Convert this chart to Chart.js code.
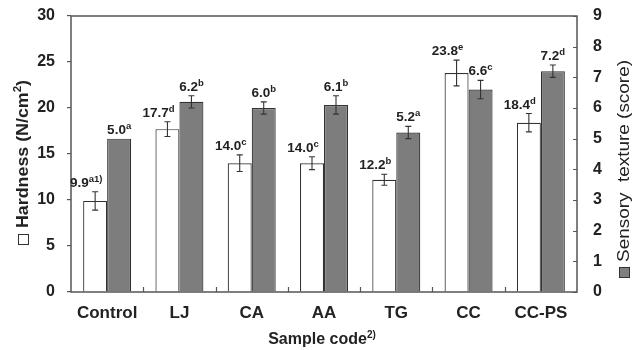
<!DOCTYPE html>
<html><head><meta charset="utf-8">
<script src="https://cdn.jsdelivr.net/npm/chart.js@4"></script>
<style>html,body{margin:0;padding:0;background:#fff}#wrap{width:644px;height:350px;position:relative}</style>
</head><body><div id="wrap"><canvas id="c" width="644" height="350"></canvas></div>
<script>
const categories = ['Control','LJ','CA','AA','TG','CC','CC-PS'];
const hardness = [9.9,17.7,14.0,14.0,12.2,23.8,18.4];
const hardnessErr = [1.0,0.8,0.9,0.7,0.6,1.4,1.0];
const hardnessSup = ['a1)','d','c','c','b','e','d'];
const sensory = [5.0,6.2,6.0,6.1,5.2,6.6,7.2];
const sensoryErr = [0,0.2,0.2,0.3,0.2,0.3,0.2];
const sensorySup = ['a','b','b','b','a','c','d'];
const hardnessTicks = [0,5,10,15,20,25,30];
const sensoryTicks = [0,1,2,3,4,5,6,7,8,9];

const TXT = '#222';
const AX = '#555';
const FONT = '"Liberation Sans", Arial, sans-serif';

function drawSupText(ctx, parts, cx, baseline, align) {
  let total = 0;
  parts.forEach(p => { ctx.font = p.font; p.w = ctx.measureText(p.t).width; total += p.w; });
  let x = align === 'center' ? cx - total / 2 : cx;
  parts.forEach(p => {
    ctx.font = p.font;
    ctx.fillText(p.t, x, baseline + (p.dy || 0));
    x += p.w;
  });
  return total;
}

// draw rotated (-90deg) text parts starting at screen y=startY going upward, fitted to length
function drawVertical(ctx, parts, baseX, startY, length) {
  let total = 0;
  parts.forEach(p => { ctx.font = p.font; p.w = ctx.measureText(p.t).width; total += p.w; });
  ctx.save();
  ctx.translate(baseX, startY);
  ctx.rotate(-Math.PI / 2);
  ctx.scale(length / total, 1);
  let x = 0;
  parts.forEach(p => {
    ctx.font = p.font;
    ctx.fillText(p.t, x, p.dy || 0);
    x += p.w;
  });
  ctx.restore();
}

const overlay = {
  id: 'overlay',
  afterDatasetsDraw(chart) {
    const ctx = chart.ctx;
    const a = chart.chartArea;
    const ys = chart.scales.y, y2 = chart.scales.y2;
    ctx.save();
    ctx.strokeStyle = AX; ctx.lineWidth = 1.5;
    ctx.strokeRect(a.left, a.top, a.right - a.left, a.bottom - a.top);
    ctx.lineWidth = 1.2;
    const cw = (a.right - a.left) / categories.length;
    ctx.beginPath();
    for (let k = 1; k < categories.length; k++) {
      const x = Math.round(a.left + cw * k) + 0.5;
      ctx.moveTo(x, a.bottom); ctx.lineTo(x, a.bottom - 5);
    }
    sensoryTicks.forEach(v => {
      const y = Math.round(y2.getPixelForValue(v)) + 0.5;
      ctx.moveTo(a.right, y); ctx.lineTo(a.right - 4, y);
    });
    ctx.stroke();

    const m0 = chart.getDatasetMeta(0).data, m1 = chart.getDatasetMeta(1).data;
    ctx.strokeStyle = '#333'; ctx.lineWidth = 1.1;
    ctx.fillStyle = TXT; ctx.textBaseline = 'alphabetic'; ctx.textAlign = 'left';
    const vf = 'bold 13.5px ' + FONT, sf = 'bold 9.5px ' + FONT;
    categories.forEach((c, i) => {
      const x0 = m0[i].x;
      const top0 = ys.getPixelForValue(hardness[i] + hardnessErr[i]);
      const bot0 = ys.getPixelForValue(hardness[i] - hardnessErr[i]);
      if (hardnessErr[i] > 0) {
        ctx.beginPath();
        ctx.moveTo(x0, top0); ctx.lineTo(x0, bot0);
        ctx.moveTo(x0 - 3, top0); ctx.lineTo(x0 + 3, top0);
        ctx.moveTo(x0 - 3, bot0); ctx.lineTo(x0 + 3, bot0);
        ctx.stroke();
      }
      drawSupText(ctx, [
        {t: hardness[i].toFixed(1), font: vf},
        {t: hardnessSup[i], font: sf, dy: -5}
      ], x0 - 9, top0 - 5, 'center');
      const x1 = m1[i].x;
      const top1 = y2.getPixelForValue(sensory[i] + sensoryErr[i]);
      const bot1 = y2.getPixelForValue(sensory[i] - sensoryErr[i]);
      if (sensoryErr[i] > 0) {
        ctx.beginPath();
        ctx.moveTo(x1, top1); ctx.lineTo(x1, bot1);
        ctx.moveTo(x1 - 3, top1); ctx.lineTo(x1 + 3, top1);
        ctx.moveTo(x1 - 3, bot1); ctx.lineTo(x1 + 3, bot1);
        ctx.stroke();
      }
      drawSupText(ctx, [
        {t: sensory[i].toFixed(1), font: vf},
        {t: sensorySup[i], font: sf, dy: -5}
      ], x1, top1 - 5, 'center');
    });

    // left title: square + text
    ctx.strokeStyle = '#333'; ctx.lineWidth = 1;
    ctx.strokeRect(18.5, 234.5, 10, 10);
    ctx.fillStyle = TXT;
    drawVertical(ctx, [
      {t: 'Hardness (N/cm', font: 'bold 17px ' + FONT},
      {t: '2', font: 'bold 11px ' + FONT, dy: -7},
      {t: ')', font: 'bold 17px ' + FONT}
    ], 28, 228, 148);

    // right title
    ctx.fillStyle = '#808080';
    ctx.fillRect(619, 267, 11, 11);
    ctx.strokeRect(619.5, 267.5, 10, 10);
    ctx.fillStyle = TXT;
    drawVertical(ctx, [
      {t: 'Sensory  texture (score)', font: '17px ' + FONT}
    ], 629, 262, 202);

    // bottom title
    drawSupText(ctx, [
      {t: 'Sample code', font: 'bold 16px ' + FONT},
      {t: '2)', font: 'bold 10px ' + FONT, dy: -6}
    ], 322, 344, 'center');
    ctx.restore();
  }
};

new Chart(document.getElementById('c'), {
  type: 'bar',
  data: {
    labels: categories,
    datasets: [
      {label: 'Hardness', data: hardness, yAxisID: 'y', backgroundColor: '#ffffff', borderColor: '#333', borderWidth: 1.2,
       categoryPercentage: 0.664, barPercentage: 1.0},
      {label: 'Sensory texture', data: sensory, yAxisID: 'y2', backgroundColor: '#7d7d7d', borderColor: '#333', borderWidth: 1.2,
       categoryPercentage: 0.664, barPercentage: 1.0}
    ]
  },
  options: {
    responsive: false, animation: false, devicePixelRatio: 1,
    layout: {padding: {top: 16, left: 0, right: 0, bottom: 0}},
    plugins: {legend: {display: false}, tooltip: {enabled: false}},
    scales: {
      x: {
        offset: true,
        grid: {display: false},
        border: {display: false},
        ticks: {color: TXT, font: {family: FONT, size: 17, weight: 'bold'}, padding: 3, maxRotation: 0},
        afterFit(s) { s.height = 58; s.paddingLeft = 0; s.paddingRight = 0; }
      },
      y: {
        position: 'left', min: 0, max: 30,
        afterBuildTicks(s) { s.ticks = hardnessTicks.map(v => ({value: v})); },
        grid: {drawOnChartArea: false, tickLength: 4, color: AX, lineWidth: 1.2},
        border: {display: false},
        ticks: {color: TXT, font: {family: FONT, size: 16, weight: 'bold'}, padding: 12},
        afterFit(s) { s.width = 71; s.paddingTop = 0; s.paddingBottom = 0; }
      },
      y2: {
        position: 'right', min: 0, max: 9,
        afterBuildTicks(s) { s.ticks = sensoryTicks.map(v => ({value: v})); },
        grid: {drawOnChartArea: false, drawTicks: false},
        border: {display: false},
        ticks: {color: TXT, font: {family: FONT, size: 16, weight: 'bold'}, padding: 16},
        afterFit(s) { s.width = 67; s.paddingTop = 0; s.paddingBottom = 0; }
      }
    }
  },
  plugins: [overlay]
});
</script></body></html>
